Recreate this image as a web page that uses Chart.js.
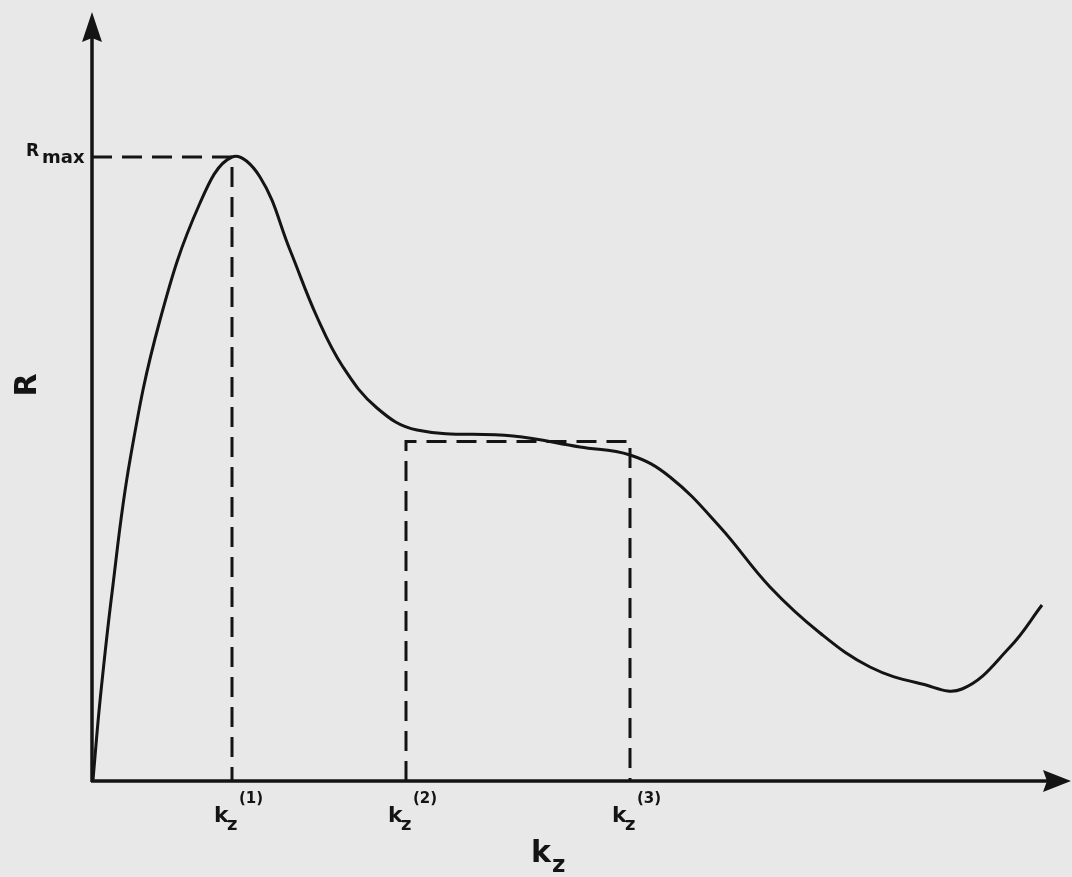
<!DOCTYPE html>
<html>
<head>
<meta charset="utf-8">
<script src="https://cdn.jsdelivr.net/npm/chart.js@4/dist/chart.umd.min.js"></script>
<style>
  html, body { margin: 0; padding: 0; background: #e8e8e8; }
  #wrap { width: 1072px; height: 877px; }
</style>
</head>
<body>
<div id="wrap"><canvas id="c" width="1072" height="877"></canvas></div>
<script>
// ---- data (arbitrary units) ----
const kz = [1, 8, 20, 38, 68, 108, 140, 168, 198, 225, 251, 285, 325, 421, 488, 538, 578, 628, 678, 728, 778, 830, 870, 918, 950];
const R  = [1, 80, 188, 321, 461, 578, 624, 604, 531, 464, 414, 373, 351, 345, 334, 326, 304, 254, 194, 148, 114, 97, 92, 134, 176];
const kTicks = [140, 314, 538];            // k_z^(1), k_z^(2), k_z^(3)
const kTickSup = ["(1)", "(2)", "(3)"];
const rMax = 624;
const rPlateau = 339.5;
const xMax = 979, yMax = 769;
const ink = "#141414";
const FONT = "'DejaVu Sans', sans-serif";

const annot = {
  id: 'annot',
  afterDatasetsDraw(chart) {
    const ctx = chart.ctx;
    const xs = chart.scales.x, ys = chart.scales.y;
    const x0 = xs.getPixelForValue(0), y0 = ys.getPixelForValue(0);
    const xe = xs.getPixelForValue(xMax), ye = ys.getPixelForValue(yMax);
    ctx.save();
    ctx.strokeStyle = ink; ctx.fillStyle = ink;
    ctx.lineWidth = 3.5; ctx.lineCap = 'butt';
    // y axis
    ctx.beginPath(); ctx.moveTo(x0, y0 + 1); ctx.lineTo(x0, ye + 20); ctx.stroke();
    ctx.beginPath(); ctx.moveTo(x0, ye); ctx.lineTo(x0 + 10, ye + 30); ctx.lineTo(x0, ye + 26); ctx.lineTo(x0 - 10, ye + 30); ctx.closePath(); ctx.fill();
    // x axis
    ctx.beginPath(); ctx.moveTo(x0 - 1, y0); ctx.lineTo(xe - 20, y0); ctx.stroke();
    ctx.beginPath(); ctx.moveTo(xe, y0); ctx.lineTo(xe - 28, y0 - 11); ctx.lineTo(xe - 24, y0); ctx.lineTo(xe - 28, y0 + 11); ctx.closePath(); ctx.fill();

    ctx.textAlign = 'left'; ctx.textBaseline = 'alphabetic';
    // R_max label
    const yr = ys.getPixelForValue(rMax);
    ctx.font = `bold 17px ${FONT}`; ctx.fillText('R', 26, yr - 1);
    ctx.font = `bold 18px ${FONT}`; ctx.fillText('max', 42, yr + 6);
    // tick labels k_z^(i)
    kTicks.forEach((v, i) => {
      const px = xs.getPixelForValue(v);
      ctx.font = `bold 22px ${FONT}`; ctx.fillText('k', px - 18, y0 + 41);
      ctx.font = `bold 18px ${FONT}`; ctx.fillText('z', px - 5, y0 + 49);
      ctx.font = `bold 15px ${FONT}`; ctx.fillText(kTickSup[i], px + 7, y0 + 22);
    });
    // x title
    ctx.font = `bold 30px ${FONT}`; ctx.fillText('k', 531, 862);
    ctx.font = `bold 23px ${FONT}`; ctx.fillText('z', 552, 872);
    // y title
    ctx.translate(28, 385); ctx.rotate(-Math.PI / 2);
    ctx.textAlign = 'center'; ctx.textBaseline = 'middle';
    ctx.font = `bold 30px ${FONT}`; ctx.fillText('R', 0, 0);
    ctx.restore();
  }
};

new Chart(document.getElementById('c'), {
  type: 'scatter',
  data: {
    datasets: [
      { data: kz.map((k, i) => ({ x: k, y: R[i] })), showLine: true, borderColor: ink, borderWidth: 3,
        pointRadius: 0, tension: 0.4, fill: false },
      { data: [{ x: 0, y: rMax }, { x: kTicks[0], y: rMax }, { x: kTicks[0], y: 0 }], showLine: true,
        borderColor: ink, borderWidth: 3, borderDash: [20, 10], pointRadius: 0, tension: 0 },
      { data: [{ x: kTicks[1], y: 0 }, { x: kTicks[1], y: rPlateau }, { x: kTicks[2], y: rPlateau }, { x: kTicks[2], y: 0 }],
        showLine: true, borderColor: ink, borderWidth: 3, borderDash: [20, 10], pointRadius: 0, tension: 0 }
    ]
  },
  options: {
    responsive: false, animation: false, events: [],
    layout: { padding: { left: 92, top: 12, right: 1, bottom: 96 } },
    plugins: { legend: { display: false }, tooltip: { enabled: false } },
    scales: {
      x: { type: 'linear', min: 0, max: xMax, display: false },
      y: { type: 'linear', min: 0, max: yMax, display: false }
    }
  },
  plugins: [annot]
});
</script>
</body>
</html>
